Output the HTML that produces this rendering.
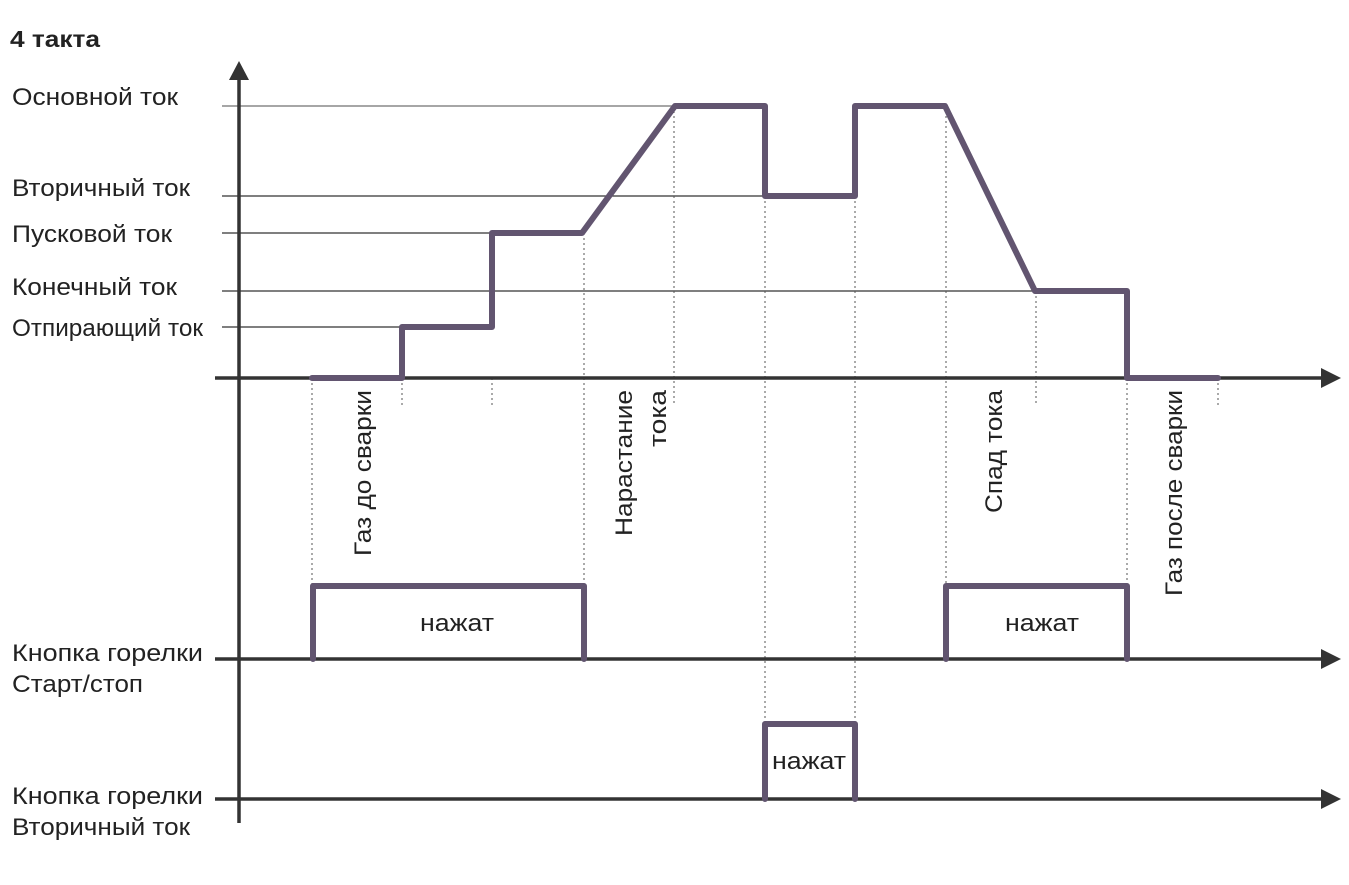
<!DOCTYPE html>
<html><head><meta charset="utf-8"><style>
html,body{margin:0;padding:0;background:#fff;}
svg{display:block;}
text{font-family:"Liberation Sans",Arial,sans-serif;fill:#222;}
</style></head><body>
<svg width="1349" height="885" viewBox="0 0 1349 885" xmlns="http://www.w3.org/2000/svg">
<text x="10" y="47" font-size="23" font-weight="bold" textLength="90" lengthAdjust="spacingAndGlyphs">4 такта</text>
<g font-size="24" lengthAdjust="spacingAndGlyphs">
<text x="12" y="105" textLength="166" lengthAdjust="spacingAndGlyphs">Основной ток</text>
<text x="12" y="196" textLength="178" lengthAdjust="spacingAndGlyphs">Вторичный ток</text>
<text x="12" y="242" textLength="160" lengthAdjust="spacingAndGlyphs">Пусковой ток</text>
<text x="12" y="295" textLength="165" lengthAdjust="spacingAndGlyphs">Конечный ток</text>
<text x="12" y="336" textLength="191" lengthAdjust="spacingAndGlyphs">Отпирающий ток</text>
<text x="12" y="661" textLength="191" lengthAdjust="spacingAndGlyphs">Кнопка  горелки</text>
<text x="12" y="692" textLength="131" lengthAdjust="spacingAndGlyphs">Старт/стоп</text>
<text x="12" y="804" textLength="191" lengthAdjust="spacingAndGlyphs">Кнопка  горелки</text>
<text x="12" y="835" textLength="178" lengthAdjust="spacingAndGlyphs">Вторичный ток</text>
</g>
<line x1="222" y1="106" x2="675" y2="106" stroke="#888" stroke-width="1.5"/>
<line x1="222" y1="196" x2="765" y2="196" stroke="#333" stroke-width="1.2"/>
<line x1="222" y1="233" x2="492" y2="233" stroke="#333" stroke-width="1.2"/>
<line x1="222" y1="291" x2="1035" y2="291" stroke="#333" stroke-width="1.2"/>
<line x1="222" y1="327" x2="402" y2="327" stroke="#333" stroke-width="1.2"/>
<g stroke="#555" stroke-width="1" stroke-dasharray="2,3">
<line x1="312" y1="378" x2="312" y2="586"/>
<line x1="402" y1="378" x2="402" y2="405"/>
<line x1="492" y1="378" x2="492" y2="405"/>
<line x1="584" y1="233" x2="584" y2="586"/>
<line x1="674" y1="106" x2="674" y2="405"/>
<line x1="765" y1="196" x2="765" y2="724"/>
<line x1="855" y1="196" x2="855" y2="724"/>
<line x1="946" y1="106" x2="946" y2="586"/>
<line x1="1036" y1="291" x2="1036" y2="405"/>
<line x1="1127" y1="378" x2="1127" y2="586"/>
<line x1="1218" y1="378" x2="1218" y2="405"/>
</g>
<g stroke="#333" stroke-width="3.5">
<line x1="239" y1="78" x2="239" y2="823"/>
<line x1="215" y1="378" x2="1325" y2="378"/>
<line x1="215" y1="659" x2="1325" y2="659"/>
<line x1="215" y1="799" x2="1325" y2="799"/>
</g>
<g fill="#333">
<polygon points="239,61 229,80 249,80"/>
<polygon points="1341,378 1321,368 1321,388"/>
<polygon points="1341,659 1321,649 1321,669"/>
<polygon points="1341,799 1321,789 1321,809"/>
</g>
<g fill="none" stroke="#625570" stroke-width="6" stroke-linejoin="round" stroke-linecap="round">
<polyline points="312,378 402,378 402,327 492,327 492,233 582,233 675,106 765,106 765,196 855,196 855,106 945,106 1035,291 1127,291 1127,378 1218,378"/>
<polyline points="313,659 313,586 584,586 584,659"/>
<polyline points="946,659 946,586 1127,586 1127,659"/>
<polyline points="765,799 765,724 855,724 855,799"/>
</g>
<g font-size="24">
<text x="420" y="631" textLength="74" lengthAdjust="spacingAndGlyphs">нажат</text>
<text x="1005" y="631" textLength="74" lengthAdjust="spacingAndGlyphs">нажат</text>
<text x="772" y="769" textLength="74" lengthAdjust="spacingAndGlyphs">нажат</text>
</g>
<g font-size="24">
<text transform="translate(371,556) rotate(-90)" textLength="166" lengthAdjust="spacingAndGlyphs">Газ до сварки</text>
<text transform="translate(632,536) rotate(-90)" textLength="146" lengthAdjust="spacingAndGlyphs">Нарастание</text>
<text transform="translate(666,447) rotate(-90)" textLength="57" lengthAdjust="spacingAndGlyphs">тока</text>
<text transform="translate(1002,513) rotate(-90)" textLength="123" lengthAdjust="spacingAndGlyphs">Спад тока</text>
<text transform="translate(1182,596) rotate(-90)" textLength="206" lengthAdjust="spacingAndGlyphs">Газ после сварки</text>
</g>
</svg>
</body></html>
